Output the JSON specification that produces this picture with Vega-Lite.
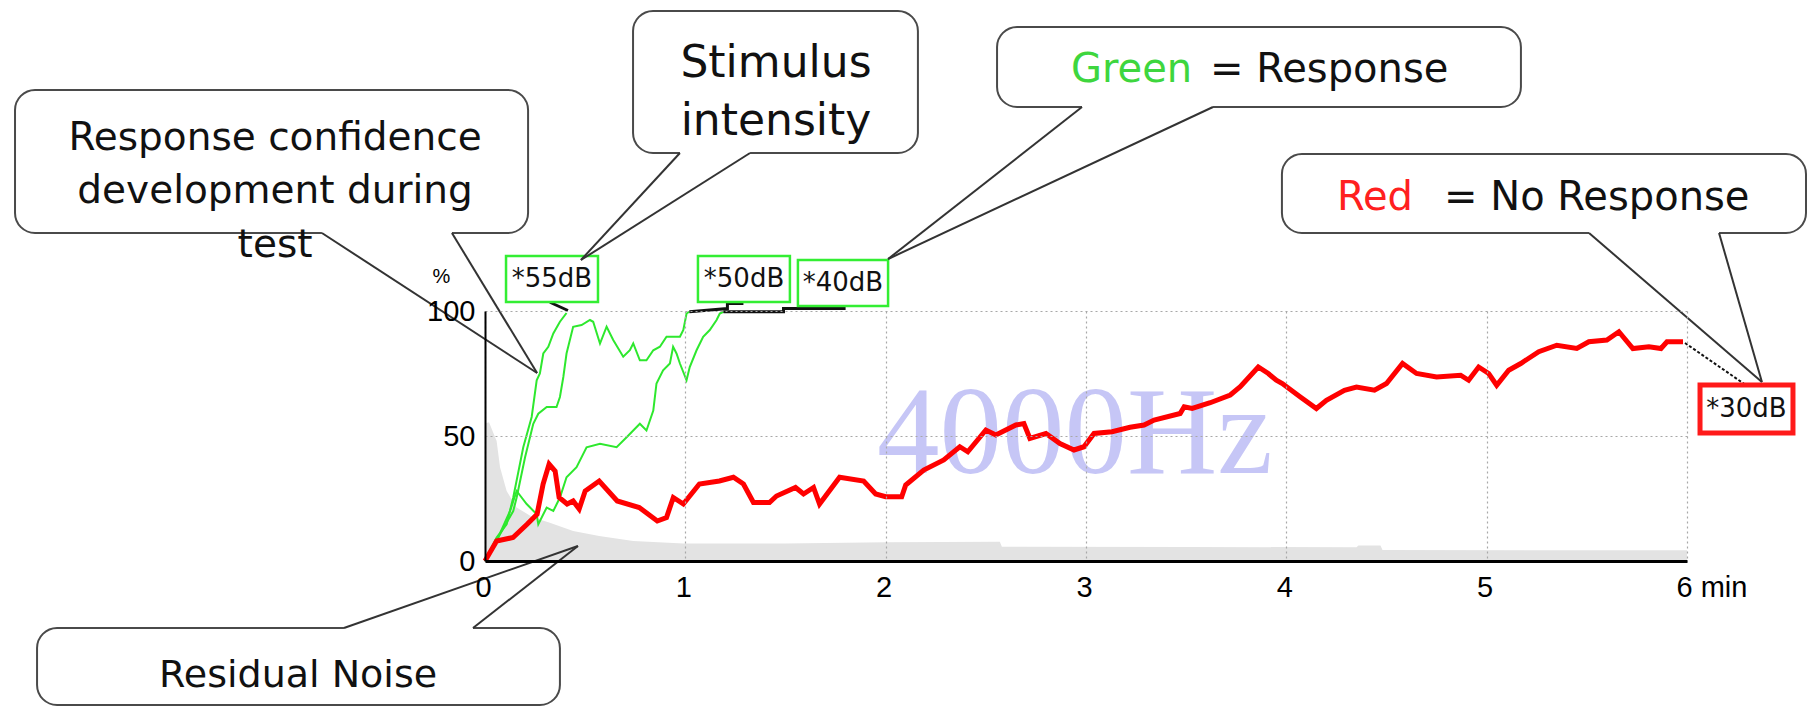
{
  "$schema": "https://vega.github.io/schema/vega-lite/v6.json",
  "autosize": {"type": "none"},
  "width": 1202,
  "height": 250,
  "padding": {"left": 485, "top": 311, "right": 121, "bottom": 146},
  "background": "white",
  "config": {"view": {"stroke": null}},
  "datasets": {
    "noise": [
      {"x": 0, "y": 55}, {"x": 0.02, "y": 55.5}, {"x": 0.058, "y": 48}, {"x": 0.075, "y": 37.5},
      {"x": 0.108, "y": 28}, {"x": 0.158, "y": 21.4}, {"x": 0.24, "y": 17.4}, {"x": 0.32, "y": 15.4},
      {"x": 0.44, "y": 12}, {"x": 0.57, "y": 10}, {"x": 0.74, "y": 8}, {"x": 0.99, "y": 7},
      {"x": 1.5, "y": 7}, {"x": 2.0, "y": 7.5}, {"x": 2.57, "y": 7.7}, {"x": 2.58, "y": 5.7},
      {"x": 3.5, "y": 5.6}, {"x": 4.35, "y": 5.5}, {"x": 4.36, "y": 6.2}, {"x": 4.47, "y": 6.2},
      {"x": 4.48, "y": 4.4}, {"x": 5.2, "y": 4.3}, {"x": 6.0, "y": 4.3}
    ],
    "watermark": [{"x": 1.957, "y": 35.2, "label": "4000Hz"}],
    "red": [
      {"x": 0, "y": 0}, {"x": 0.058, "y": 8}, {"x": 0.14, "y": 9.4}, {"x": 0.21, "y": 14.7},
      {"x": 0.26, "y": 18.7}, {"x": 0.29, "y": 30.8}, {"x": 0.32, "y": 38.8}, {"x": 0.35, "y": 36},
      {"x": 0.37, "y": 25.4}, {"x": 0.41, "y": 22.8}, {"x": 0.44, "y": 24}, {"x": 0.47, "y": 20.8},
      {"x": 0.5, "y": 28}, {"x": 0.57, "y": 32}, {"x": 0.66, "y": 24}, {"x": 0.77, "y": 21.4},
      {"x": 0.86, "y": 16}, {"x": 0.906, "y": 17.4}, {"x": 0.94, "y": 25.4}, {"x": 0.99, "y": 22.8},
      {"x": 1.07, "y": 30.8}, {"x": 1.17, "y": 32}, {"x": 1.24, "y": 33.5}, {"x": 1.29, "y": 30.8},
      {"x": 1.34, "y": 23.4}, {"x": 1.42, "y": 23.4}, {"x": 1.455, "y": 26}, {"x": 1.55, "y": 29.4},
      {"x": 1.59, "y": 26.8}, {"x": 1.64, "y": 29.4}, {"x": 1.67, "y": 22.8}, {"x": 1.77, "y": 33.5},
      {"x": 1.89, "y": 32}, {"x": 1.95, "y": 26.8}, {"x": 2.0, "y": 25.7}, {"x": 2.08, "y": 25.7},
      {"x": 2.1, "y": 30.4}, {"x": 2.19, "y": 36.4}, {"x": 2.29, "y": 40.4}, {"x": 2.37, "y": 45.7},
      {"x": 2.41, "y": 43.7}, {"x": 2.5, "y": 52.4}, {"x": 2.55, "y": 50.4}, {"x": 2.65, "y": 54.4},
      {"x": 2.69, "y": 55}, {"x": 2.72, "y": 49}, {"x": 2.8, "y": 51}, {"x": 2.87, "y": 47},
      {"x": 2.94, "y": 44.4}, {"x": 2.99, "y": 45.7}, {"x": 3.04, "y": 51}, {"x": 3.13, "y": 51.7},
      {"x": 3.22, "y": 53.5}, {"x": 3.29, "y": 54.4}, {"x": 3.34, "y": 56.4}, {"x": 3.47, "y": 59},
      {"x": 3.49, "y": 61.7}, {"x": 3.53, "y": 61}, {"x": 3.62, "y": 63.3}, {"x": 3.72, "y": 66.4},
      {"x": 3.77, "y": 69.7}, {"x": 3.86, "y": 77.6}, {"x": 3.91, "y": 75}, {"x": 3.95, "y": 72.3},
      {"x": 3.98, "y": 71}, {"x": 4.07, "y": 65.6}, {"x": 4.15, "y": 61}, {"x": 4.2, "y": 64.3},
      {"x": 4.29, "y": 68.3}, {"x": 4.35, "y": 69.6}, {"x": 4.44, "y": 68.3}, {"x": 4.5, "y": 71},
      {"x": 4.58, "y": 79}, {"x": 4.65, "y": 75}, {"x": 4.75, "y": 73.6}, {"x": 4.87, "y": 74.3},
      {"x": 4.91, "y": 72.3}, {"x": 4.96, "y": 77.6}, {"x": 5.01, "y": 75}, {"x": 5.05, "y": 70.3},
      {"x": 5.11, "y": 76.3}, {"x": 5.17, "y": 79}, {"x": 5.26, "y": 83.7}, {"x": 5.35, "y": 86.3},
      {"x": 5.45, "y": 85}, {"x": 5.51, "y": 87.7}, {"x": 5.6, "y": 88.4}, {"x": 5.66, "y": 91.7},
      {"x": 5.73, "y": 85}, {"x": 5.81, "y": 85.7}, {"x": 5.87, "y": 85}, {"x": 5.9, "y": 87.7},
      {"x": 5.98, "y": 87.7}
    ],
    "green": [
      {"s": "55dB", "x": 0, "y": 0}, {"s": "55dB", "x": 0.058, "y": 9.4}, {"s": "55dB", "x": 0.108, "y": 14.7},
      {"s": "55dB", "x": 0.141, "y": 25.4}, {"s": "55dB", "x": 0.191, "y": 45.5}, {"s": "55dB", "x": 0.233, "y": 57.6},
      {"s": "55dB", "x": 0.258, "y": 72.3}, {"s": "55dB", "x": 0.274, "y": 75}, {"s": "55dB", "x": 0.291, "y": 83},
      {"s": "55dB", "x": 0.316, "y": 85.7}, {"s": "55dB", "x": 0.341, "y": 91}, {"s": "55dB", "x": 0.374, "y": 95.7},
      {"s": "55dB", "x": 0.407, "y": 99.2},
      {"s": "50dB", "x": 0, "y": 0}, {"s": "50dB", "x": 0.075, "y": 10.7}, {"s": "50dB", "x": 0.141, "y": 20},
      {"s": "50dB", "x": 0.158, "y": 25.4}, {"s": "50dB", "x": 0.2, "y": 41.5}, {"s": "50dB", "x": 0.241, "y": 54.9},
      {"s": "50dB", "x": 0.266, "y": 58.9}, {"s": "50dB", "x": 0.308, "y": 61.6}, {"s": "50dB", "x": 0.357, "y": 61.6},
      {"s": "50dB", "x": 0.374, "y": 65.6}, {"s": "50dB", "x": 0.391, "y": 73.6}, {"s": "50dB", "x": 0.407, "y": 83},
      {"s": "50dB", "x": 0.44, "y": 93.7}, {"s": "50dB", "x": 0.482, "y": 94.4}, {"s": "50dB", "x": 0.524, "y": 96.4},
      {"s": "50dB", "x": 0.54, "y": 95.7}, {"s": "50dB", "x": 0.574, "y": 87}, {"s": "50dB", "x": 0.607, "y": 93.7},
      {"s": "50dB", "x": 0.64, "y": 88.4}, {"s": "50dB", "x": 0.69, "y": 81.7}, {"s": "50dB", "x": 0.723, "y": 84.3},
      {"s": "50dB", "x": 0.74, "y": 87}, {"s": "50dB", "x": 0.773, "y": 80.3}, {"s": "50dB", "x": 0.806, "y": 80.3},
      {"s": "50dB", "x": 0.84, "y": 84.3}, {"s": "50dB", "x": 0.873, "y": 85.7}, {"s": "50dB", "x": 0.906, "y": 89.7},
      {"s": "50dB", "x": 0.973, "y": 89.7}, {"s": "50dB", "x": 0.99, "y": 92.4}, {"s": "50dB", "x": 1.006, "y": 99},
      {"s": "50dB", "x": 1.02, "y": 99.7},
      {"s": "40dB", "x": 0, "y": 0}, {"s": "40dB", "x": 0.058, "y": 8}, {"s": "40dB", "x": 0.125, "y": 20},
      {"s": "40dB", "x": 0.158, "y": 28}, {"s": "40dB", "x": 0.208, "y": 22.8}, {"s": "40dB", "x": 0.258, "y": 18.7},
      {"s": "40dB", "x": 0.266, "y": 14.7}, {"s": "40dB", "x": 0.308, "y": 21.4}, {"s": "40dB", "x": 0.341, "y": 20},
      {"s": "40dB", "x": 0.374, "y": 25.4}, {"s": "40dB", "x": 0.407, "y": 33.5}, {"s": "40dB", "x": 0.457, "y": 37.5},
      {"s": "40dB", "x": 0.507, "y": 45.5}, {"s": "40dB", "x": 0.574, "y": 46.9}, {"s": "40dB", "x": 0.657, "y": 45.5},
      {"s": "40dB", "x": 0.707, "y": 49.5}, {"s": "40dB", "x": 0.74, "y": 52.2}, {"s": "40dB", "x": 0.773, "y": 54.9},
      {"s": "40dB", "x": 0.806, "y": 52.2}, {"s": "40dB", "x": 0.84, "y": 60.2}, {"s": "40dB", "x": 0.856, "y": 71},
      {"s": "40dB", "x": 0.889, "y": 76.3}, {"s": "40dB", "x": 0.923, "y": 79}, {"s": "40dB", "x": 0.939, "y": 85.7},
      {"s": "40dB", "x": 0.956, "y": 83}, {"s": "40dB", "x": 0.973, "y": 79}, {"s": "40dB", "x": 1.006, "y": 72.3},
      {"s": "40dB", "x": 1.022, "y": 77.6}, {"s": "40dB", "x": 1.056, "y": 84.3}, {"s": "40dB", "x": 1.089, "y": 89.7},
      {"s": "40dB", "x": 1.122, "y": 92.4}, {"s": "40dB", "x": 1.156, "y": 96.4}, {"s": "40dB", "x": 1.172, "y": 99},
      {"s": "40dB", "x": 1.19, "y": 99.7}
    ],
    "conn": [
      {"s": "55dB", "x": 0.324, "y": 103.5}, {"s": "55dB", "x": 0.414, "y": 100.2},
      {"s": "50dB", "x": 1.02, "y": 99.7}, {"s": "50dB", "x": 1.21, "y": 101}, {"s": "50dB", "x": 1.21, "y": 103}, {"s": "50dB", "x": 1.29, "y": 103},
      {"s": "40dB", "x": 1.19, "y": 99.7}, {"s": "40dB", "x": 1.49, "y": 99.7}, {"s": "40dB", "x": 1.49, "y": 101}, {"s": "40dB", "x": 1.8, "y": 101}
    ],
    "dash30": [{"x": 5.99, "y": 87.2}, {"x": 6.315, "y": 69.2}],
    "dbbox": [
      {"kind": "response", "x": 0.105, "xe": 0.564, "y": 103.6, "ye": 122},
      {"kind": "response", "x": 1.063, "xe": 1.522, "y": 103.6, "ye": 122},
      {"kind": "response", "x": 1.562, "xe": 2.012, "y": 102, "ye": 120.4},
      {"kind": "noresponse", "x": 6.065, "xe": 6.529, "y": 51.2, "ye": 70.4}
    ],
    "dbtext": [
      {"x": 0.334, "y": 112.8, "label": "*55dB"},
      {"x": 1.293, "y": 112.8, "label": "*50dB"},
      {"x": 1.787, "y": 111.2, "label": "*40dB"},
      {"x": 6.297, "y": 60.8, "label": "*30dB"}
    ],
    "callout": [
      {"box": "b1", "x": -2.346, "xe": 0.215, "y": 131.2, "ye": 188.4},
      {"box": "b2", "x": 0.739, "xe": 2.161, "y": 163.2, "ye": 220},
      {"box": "b3", "x": 2.556, "xe": 5.171, "y": 181.6, "ye": 213.6},
      {"box": "b4", "x": 3.978, "xe": 6.594, "y": 131.2, "ye": 162.8},
      {"box": "b5", "x": -2.236, "xe": 0.374, "y": -57.6, "ye": -26.8}
    ],
    "gaps": [
      {"x": -0.814, "xe": -0.165, "y": 131.2},
      {"x": 0.973, "xe": 1.323, "y": 163.2},
      {"x": 2.98, "xe": 3.634, "y": 181.6},
      {"x": 5.511, "xe": 6.16, "y": 131.2},
      {"x": -0.704, "xe": -0.06, "y": -26.8}
    ],
    "tails": [
      {"x": -0.814, "y": 131.2, "xe": 0.26, "ye": 75.2},
      {"x": -0.165, "y": 131.2, "xe": 0.26, "ye": 75.2},
      {"x": 0.973, "y": 163.2, "xe": 0.479, "ye": 120.4},
      {"x": 1.323, "y": 163.2, "xe": 0.479, "ye": 120.4},
      {"x": 2.98, "y": 181.6, "xe": 2.012, "ye": 120.8},
      {"x": 3.634, "y": 181.6, "xe": 2.012, "ye": 120.8},
      {"x": 5.511, "y": 131.2, "xe": 6.374, "ye": 71.6},
      {"x": 6.16, "y": 131.2, "xe": 6.374, "ye": 71.6},
      {"x": -0.704, "y": -26.8, "xe": 0.464, "ye": 6},
      {"x": -0.06, "y": -26.8, "xe": 0.464, "ye": 6}
    ],
    "ctext": [
      {"box": "b1", "x": -1.048, "y": 164.4, "label": "Response confidence"},
      {"box": "b1", "x": -1.048, "y": 143.2, "label": "development during"},
      {"box": "b1", "x": -1.048, "y": 121.6, "label": "test"},
      {"box": "b2", "x": 1.4526, "y": 193.7, "label": "Stimulus"},
      {"box": "b2", "x": 1.4526, "y": 170.4, "label": "intensity"},
      {"box": "b3", "x": 2.925, "y": 191.7, "label": "Green"},
      {"box": "b3", "x": 3.619, "y": 191.7, "label": "= Response"},
      {"box": "b4", "x": 4.253, "y": 140.4, "label": "Red"},
      {"box": "b4", "x": 4.787, "y": 140.4, "label": "= No Response"},
      {"box": "b5", "x": -0.933, "y": -50.3, "label": "Residual Noise"}
    ]
  },
  "encoding": {
    "x": {
      "field": "x", "type": "quantitative",
      "scale": {"domain": [0, 6], "nice": false, "zero": false},
      "axis": {
        "values": [0, 1, 2, 3, 4, 5, 6], "title": null, "grid": true,
        "gridColor": "#a8a8a8", "gridDash": [2, 3], "gridWidth": 1.2,
        "ticks": false, "domainColor": "#000000", "domainWidth": 3,
        "labelFont": "Liberation Sans Narrow, Arial Narrow, Liberation Sans, sans-serif",
        "labelFontSize": 29, "labelColor": "#000000", "labelPadding": 12, "labelFlush": false,
        "labelExpr": "datum.value == 6 ? '6 min' : datum.label",
        "labelAlign": {"condition": {"test": "datum.value == 6", "value": "left"}, "value": "center"},
        "labelOffset": {"condition": {"test": "datum.value == 6", "value": -11}, "value": -2},
        "zindex": 1
      }
    },
    "y": {
      "field": "y", "type": "quantitative",
      "scale": {"domain": [0, 100], "nice": false, "zero": false},
      "axis": {
        "values": [0, 50, 100], "title": "%", "titleAngle": 0, "titleX": -44, "titleY": -35,
        "titleAlign": "center", "titleBaseline": "middle",
        "titleFont": "Liberation Sans Narrow, Arial Narrow, Liberation Sans, sans-serif",
        "titleFontSize": 20, "titleFontWeight": "normal", "titleColor": "#000000",
        "grid": true, "gridColor": "#a8a8a8", "gridDash": [2, 3], "gridWidth": 1.2,
        "ticks": false, "domainColor": "#000000", "domainWidth": 2,
        "labelFont": "Liberation Sans Narrow, Arial Narrow, Liberation Sans, sans-serif",
        "labelFontSize": 29, "labelColor": "#000000", "labelPadding": 10, "labelFlush": false,
        "zindex": 1
      }
    }
  },
  "layer": [
    {"data": {"name": "noise"}, "mark": {"type": "area", "color": "#e3e3e3"}, "encoding": {}},
    {"data": {"name": "watermark"},
     "mark": {"type": "text", "font": "Liberation Serif", "fontSize": 125, "color": "#c6c6f6", "align": "left", "baseline": "alphabetic"},
     "encoding": {"text": {"field": "label"}}},
    {"data": {"name": "green"}, "mark": {"type": "line", "color": "#2ee82e", "strokeWidth": 2},
     "encoding": {"detail": {"field": "s"}}},
    {"data": {"name": "conn"}, "mark": {"type": "line", "color": "#111111", "strokeWidth": 3},
     "encoding": {"detail": {"field": "s"}}},
    {"data": {"name": "red"}, "mark": {"type": "line", "color": "#ff0000", "strokeWidth": 5}, "encoding": {}},
    {"data": {"name": "dash30"}, "mark": {"type": "line", "color": "#111111", "strokeWidth": 2, "strokeDash": [3, 2]}, "encoding": {}},
    {"data": {"name": "dbbox"}, "transform": [{"filter": "datum.kind == 'response'"}],
     "mark": {"type": "rect", "fill": "white", "stroke": "#33ee33", "strokeWidth": 2.5},
     "encoding": {"x2": {"field": "xe"}, "y2": {"field": "ye"}}},
    {"data": {"name": "dbbox"}, "transform": [{"filter": "datum.kind == 'noresponse'"}],
     "mark": {"type": "rect", "fill": "white", "stroke": "#ff1a1a", "strokeWidth": 5},
     "encoding": {"x2": {"field": "xe"}, "y2": {"field": "ye"}}},
    {"data": {"name": "dbtext"},
     "mark": {"type": "text", "font": "DejaVu Sans", "fontSize": 26, "color": "#111111", "align": "center", "baseline": "middle"},
     "encoding": {"text": {"field": "label"}}},
    {"data": {"name": "callout"},
     "mark": {"type": "rect", "fill": "white", "stroke": "#4a4a4a", "strokeWidth": 2, "cornerRadius": 20},
     "encoding": {"x2": {"field": "xe"}, "y2": {"field": "ye"}}},
    {"data": {"name": "gaps"},
     "mark": {"type": "rule", "color": "white", "strokeWidth": 5},
     "encoding": {"x2": {"field": "xe"}}},
    {"data": {"name": "tails"},
     "mark": {"type": "rule", "color": "#333333", "strokeWidth": 2},
     "encoding": {"x2": {"field": "xe"}, "y2": {"field": "ye"}}},
    {"data": {"name": "ctext"}, "transform": [{"filter": "datum.box == 'b1'"}],
     "mark": {"type": "text", "font": "DejaVu Sans", "fontSize": 39, "color": "#111111", "align": "center", "baseline": "alphabetic"},
     "encoding": {"text": {"field": "label"}}},
    {"data": {"name": "ctext"}, "transform": [{"filter": "datum.box == 'b2'"}],
     "mark": {"type": "text", "font": "DejaVu Sans", "fontSize": 44, "color": "#111111", "align": "center", "baseline": "alphabetic"},
     "encoding": {"text": {"field": "label"}}},
    {"data": {"name": "ctext"}, "transform": [{"filter": "(datum.box == 'b3' || datum.box == 'b4') && datum.label != 'Green' && datum.label != 'Red'"}],
     "mark": {"type": "text", "font": "DejaVu Sans", "fontSize": 40, "color": "#111111", "align": "left", "baseline": "alphabetic"},
     "encoding": {"text": {"field": "label"}}},
    {"data": {"name": "ctext"}, "transform": [{"filter": "datum.label == 'Green'"}],
     "mark": {"type": "text", "font": "DejaVu Sans", "fontSize": 40, "color": "#3ed63e", "align": "left", "baseline": "alphabetic"},
     "encoding": {"text": {"field": "label"}}},
    {"data": {"name": "ctext"}, "transform": [{"filter": "datum.label == 'Red'"}],
     "mark": {"type": "text", "font": "DejaVu Sans", "fontSize": 40, "color": "#ff2020", "align": "left", "baseline": "alphabetic"},
     "encoding": {"text": {"field": "label"}}},
    {"data": {"name": "ctext"}, "transform": [{"filter": "datum.box == 'b5'"}],
     "mark": {"type": "text", "font": "DejaVu Sans", "fontSize": 38, "color": "#111111", "align": "center", "baseline": "alphabetic"},
     "encoding": {"text": {"field": "label"}}}
  ]
}
